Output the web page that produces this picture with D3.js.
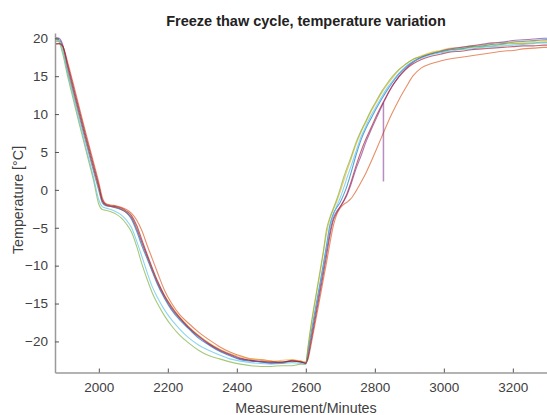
<!DOCTYPE html>
<html>
<head>
<meta charset="utf-8">
<script src="https://cdn.jsdelivr.net/npm/d3@7"></script>
<style>
  html, body { margin: 0; padding: 0; background: #fff; }
  svg { display: block; font-family: "Liberation Sans", Arial, Helvetica, sans-serif; }
</style>
</head>
<body>
<div id="chart"></div>
<script>
// sampling times (minutes) shared by all probes
const minutes = [1874, 1885, 1895, 1910, 1925, 1940, 1955, 1970, 1985, 2000,
  2010, 2020, 2035, 2050, 2065, 2080, 2095, 2110, 2125, 2140,
  2155, 2170, 2190, 2210, 2235, 2260, 2290, 2320, 2350, 2380,
  2410, 2440, 2470, 2500, 2530, 2560, 2585, 2600, 2606, 2612,
  2620, 2630, 2640, 2650, 2660, 2670, 2680, 2690, 2700, 2710,
  2720, 2730, 2745, 2760, 2775, 2790, 2805, 2820, 2835, 2850,
  2870, 2890, 2910, 2935, 2960, 2990, 3020, 3050, 3080, 3110,
  3140, 3170, 3200, 3230, 3260, 3290, 3310];

const tempBlue = [19.9, 19.8, 18.9, 15.7, 13.0, 10.3, 7.6, 5.0, 2.4, -0.1,
  -1.7, -2.1, -2.2, -2.4, -2.6, -3.0, -3.9, -5.5, -7.4, -9.1,
  -10.8, -12.5, -14.3, -15.8, -17.2, -18.3, -19.6, -20.5, -21.3, -21.9,
  -22.4, -22.6, -22.7, -22.9, -22.8, -22.5, -22.7, -22.9, -21.4, -19.8,
  -17.7, -15.1, -12.6, -10.0, -7.3, -4.6, -3.1, -2.3, -1.6, -0.6,
  0.6, 2.1, 4.5, 6.6, 8.2, 9.5, 10.8, 12.0, 13.1, 14.1,
  15.3, 16.2, 16.9, 17.5, 17.9, 18.2, 18.5, 18.6, 18.9, 19.0,
  19.2, 19.3, 19.5, 19.6, 19.7, 19.8, 19.9];

const tempOrange = [19.2, 19.3, 19.0, 16.8, 14.2, 11.5, 8.8, 6.2, 3.6, 1.0,
  -1.0, -1.8, -2.0, -2.1, -2.3, -2.6, -3.1, -4.0, -5.4, -7.3,
  -9.1, -10.9, -13.2, -14.9, -16.5, -17.6, -18.8, -19.8, -20.7, -21.4,
  -21.9, -22.3, -22.4, -22.6, -22.9, -22.5, -22.6, -22.8, -22.4, -21.2,
  -19.3, -16.9, -14.5, -12.0, -9.6, -7.0, -4.7, -3.2, -2.4, -1.9,
  -1.6, -1.2, -0.2, 1.0, 2.3, 3.8, 5.4, 7.0, 8.6, 10.1,
  11.9, 13.5, 15.0, 16.1, 16.6, 17.0, 17.3, 17.5, 17.7, 17.9,
  18.1, 18.3, 18.4, 18.6, 18.7, 18.8, 18.8];

const tempYellow = [19.7, 19.6, 18.7, 15.8, 13.1, 10.4, 7.8, 5.2, 2.6, 0.1,
  -1.5, -2.0, -2.2, -2.3, -2.5, -2.9, -3.6, -5.0, -6.9, -8.7,
  -10.5, -12.1, -13.9, -15.3, -16.8, -18.0, -19.2, -20.2, -21.0, -21.6,
  -22.0, -22.3, -22.4, -22.6, -22.5, -22.4, -22.6, -22.7, -21.0, -19.0,
  -16.7, -14.0, -11.4, -8.6, -5.8, -3.8, -2.6, -1.5, -0.2, 1.2,
  2.6, 3.9, 5.9, 7.6, 9.0, 10.4, 11.6, 12.8, 13.8, 14.7,
  15.8, 16.6, 17.2, 17.7, 18.1, 18.4, 18.7, 18.8, 19.0, 19.1,
  19.3, 19.4, 19.5, 19.5, 19.6, 19.7, 19.7];

const tempPurple = [20.1, 20.0, 19.2, 16.2, 13.4, 10.7, 8.0, 5.4, 2.8, 0.3,
  -1.5, -2.0, -2.2, -2.3, -2.6, -3.0, -3.7, -5.2, -7.0, -8.8,
  -10.6, -12.3, -14.1, -15.6, -17.0, -18.2, -19.4, -20.4, -21.2, -21.8,
  -22.3, -22.5, -22.7, -22.8, -22.8, -22.6, -22.7, -22.9, -21.8, -20.2,
  -18.2, -15.7, -13.2, -10.7, -8.0, -5.5, -3.7, -2.8, -2.2, -1.5,
  -0.6, 0.6, 2.7, 4.5, 6.4, 8.0, 9.5, 11.0, 12.4, 13.6,
  15.0, 16.0, 16.8, 17.5, 17.9, 18.3, 18.6, 18.8, 19.0, 19.2,
  19.4, 19.5, 19.7, 19.8, 19.9, 20.0, 20.0];

const tempGreen = [20.0, 19.5, 18.0, 14.9, 12.1, 9.3, 6.6, 3.9, 1.2, -1.9,
  -2.6, -2.7, -2.9, -3.2, -3.7, -4.5, -5.6, -7.5, -9.8, -11.8,
  -13.6, -15.0, -16.6, -17.9, -19.2, -20.2, -21.2, -21.9, -22.3, -22.7,
  -23.0, -23.2, -23.3, -23.3, -23.2, -23.2, -23.0, -23.0, -20.8, -18.8,
  -16.4, -13.7, -11.0, -8.3, -5.2, -3.6, -2.4, -1.2, 0.2, 1.7,
  3.0, 4.2, 6.2, 7.8, 9.2, 10.6, 11.8, 13.0, 14.0, 14.9,
  15.9, 16.6, 17.2, 17.6, 18.0, 18.3, 18.5, 18.6, 18.8, 18.9,
  19.0, 19.2, 19.3, 19.3, 19.4, 19.5, 19.5];

const tempCyan = [19.6, 19.6, 18.4, 15.3, 12.5, 9.7, 7.0, 4.3, 1.6, -1.3,
  -2.2, -2.4, -2.6, -2.9, -3.3, -4.0, -5.0, -6.8, -8.8, -10.9,
  -12.8, -14.2, -15.8, -17.1, -18.4, -19.5, -20.5, -21.2, -21.8, -22.3,
  -22.6, -22.8, -22.9, -23.0, -22.9, -22.8, -22.9, -23.0, -21.8, -20.0,
  -17.8, -15.3, -12.8, -10.2, -7.6, -4.9, -3.3, -2.1, -1.0, 0.3,
  1.7, 3.0, 5.0, 7.0, 8.5, 9.9, 11.1, 12.3, 13.4, 14.3,
  15.4, 16.3, 16.9, 17.4, 17.8, 18.1, 18.3, 18.5, 18.6, 18.8,
  18.9, 19.0, 19.1, 19.2, 19.3, 19.4, 19.4];

const tempRed = [19.3, 19.3, 19.0, 16.5, 13.8, 11.1, 8.4, 5.8, 3.2, 0.6,
  -1.3, -1.9, -2.1, -2.2, -2.4, -2.8, -3.4, -4.7, -6.6, -8.5,
  -10.3, -12.0, -13.9, -15.4, -16.9, -18.1, -19.3, -20.3, -21.1, -21.7,
  -22.2, -22.5, -22.6, -22.7, -22.7, -22.6, -22.7, -22.9, -22.2, -20.8,
  -18.8, -16.3, -13.8, -11.3, -8.7, -6.0, -4.0, -3.0, -2.2, -1.4,
  -0.4, 0.9, 3.1, 5.1, 6.8, 8.3, 9.8, 11.2, 12.5, 13.7,
  14.9, 15.9, 16.6, 17.2, 17.6, 17.9, 18.2, 18.3, 18.5, 18.6,
  18.7, 18.8, 18.9, 19.0, 19.0, 19.1, 19.1];

// single bad reading on the purple probe
const spikeMinutes = [2825, 2825];
const spikeTemps = [11.5, 1.1];

const xTicks = [2000, 2200, 2400, 2600, 2800, 3000, 3200];
const yTicks = [-20, -15, -10, -5, 0, 5, 10, 15, 20];

const series = [
  { values: tempBlue, color: '#0072BD' },
  { values: tempOrange, color: '#D95319' },
  { values: tempYellow, color: '#EDB120' },
  { values: tempPurple, color: '#7E2F8E' },
  { values: tempGreen, color: '#77AC30' },
  { values: tempCyan, color: '#4DBEEE' },
  { values: tempRed, color: '#A2142F' },
];

const width = 547, height = 415;
const margin = { left: 55, right: 557, top: 33, bottom: 372.5 };

const svg = d3.select('#chart').append('svg')
  .attr('width', width)
  .attr('height', height);

const x = d3.scaleLinear().domain([1873, 3328]).range([margin.left, margin.right]);
const y = d3.scaleLinear().domain([-24.1, 20.7]).range([margin.bottom, margin.top]);

svg.append('defs').append('clipPath').attr('id', 'plot')
  .append('rect')
  .attr('x', margin.left).attr('y', margin.top)
  .attr('width', margin.right - margin.left).attr('height', margin.bottom - margin.top);

const line = d3.line()
  .x(d => x(d[0]))
  .y(d => y(d[1]))
  .curve(d3.curveMonotoneX);

const lines = svg.append('g').attr('clip-path', 'url(#plot)');

series.forEach(s => {
  lines.append('path')
    .datum(minutes.map((m, i) => [m, s.values[i]]))
    .attr('fill', 'none')
    .attr('stroke', s.color)
    .attr('stroke-width', 1.1)
    .attr('stroke-opacity', 0.65)
    .attr('d', line);
});

lines.append('path')
  .datum(spikeMinutes.map((m, i) => [m, spikeTemps[i]]))
  .attr('fill', 'none')
  .attr('stroke', '#7E2F8E')
  .attr('stroke-width', 1.5)
  .attr('stroke-opacity', 0.55)
  .attr('d', d3.line().x(d => x(d[0])).y(d => y(d[1])));

// axes, MATLAB style: ticks point inward
const xAxis = svg.append('g')
  .attr('transform', `translate(0,${margin.bottom})`)
  .call(d3.axisBottom(x).tickValues(xTicks).tickSizeInner(-4).tickSizeOuter(0).tickPadding(10).tickFormat(d3.format('d')));

const yAxis = svg.append('g')
  .attr('transform', `translate(${margin.left},0)`)
  .call(d3.axisLeft(y).tickValues(yTicks).tickSizeInner(-4).tickSizeOuter(0).tickPadding(7));

[xAxis, yAxis].forEach(g => {
  g.select('.domain').attr('stroke', '#9a9a9a').attr('stroke-width', 1.5);
  g.selectAll('.tick line').attr('stroke', '#555');
  g.selectAll('.tick text')
    .attr('fill', '#404040')
    .style('font-size', '13.5px')
    .style('font-family', '"Liberation Sans", Arial, sans-serif');
});

svg.append('text')
  .attr('x', 306).attr('y', 26)
  .attr('text-anchor', 'middle')
  .attr('font-weight', 'bold')
  .attr('font-size', 14.5)
  .attr('fill', '#222')
  .text('Freeze thaw cycle, temperature variation');

svg.append('text')
  .attr('x', 306).attr('y', 413)
  .attr('text-anchor', 'middle')
  .attr('font-size', 14.3)
  .attr('fill', '#404040')
  .text('Measurement/Minutes');

svg.append('text')
  .attr('transform', 'translate(23,200) rotate(-90)')
  .attr('text-anchor', 'middle')
  .attr('font-size', 14.3)
  .attr('fill', '#404040')
  .text('Temperature [°C]');
</script>
</body>
</html>
